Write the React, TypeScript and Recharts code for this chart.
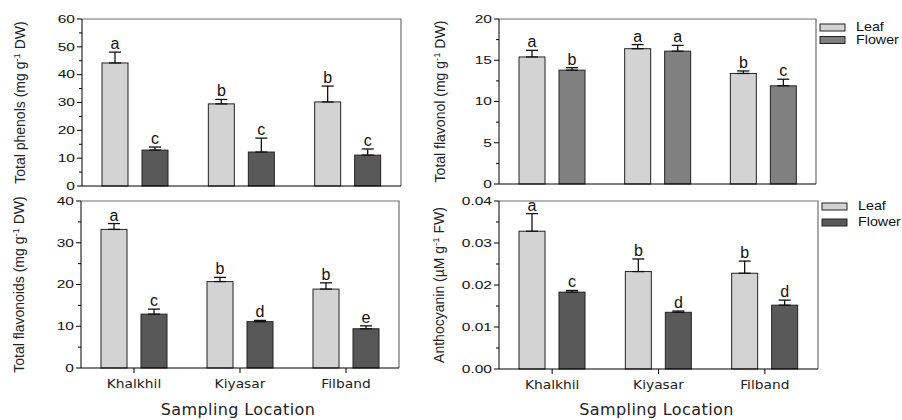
import { BarChart, Bar, XAxis, YAxis, ErrorBar, Legend, ReferenceArea } from "recharts";

const locations = ["Khalkhil", "Kiyasar", "Filband"];

// Total phenols (mg g-1 DW)
const phenolsLeaf = [44.2, 29.5, 30.2];
const phenolsLeafSe = [3.9, 1.6, 5.7];
const phenolsLeafSig = ["a", "b", "b"];
const phenolsFlower = [12.9, 12.2, 11.1];
const phenolsFlowerSe = [1.1, 5.0, 2.2];
const phenolsFlowerSig = ["c", "c", "c"];

// Total flavonol (mg g-1 DW)
const flavonolLeaf = [15.4, 16.4, 13.4];
const flavonolLeafSe = [0.8, 0.5, 0.3];
const flavonolLeafSig = ["a", "a", "b"];
const flavonolFlower = [13.8, 16.1, 11.9];
const flavonolFlowerSe = [0.3, 0.7, 0.8];
const flavonolFlowerSig = ["b", "a", "c"];

// Total flavonoids (mg g-1 DW)
const flavonoidsLeaf = [33.2, 20.7, 18.9];
const flavonoidsLeafSe = [1.4, 1.0, 1.5];
const flavonoidsLeafSig = ["a", "b", "b"];
const flavonoidsFlower = [12.9, 11.1, 9.4];
const flavonoidsFlowerSe = [1.2, 0.3, 0.7];
const flavonoidsFlowerSig = ["c", "d", "e"];

// Anthocyanin (uM g-1 FW)
const anthoLeaf = [0.0328, 0.0232, 0.0228];
const anthoLeafSe = [0.0042, 0.003, 0.0029];
const anthoLeafSig = ["a", "b", "b"];
const anthoFlower = [0.0183, 0.0135, 0.0152];
const anthoFlowerSe = [0.0004, 0.0003, 0.0012];
const anthoFlowerSig = ["c", "d", "d"];

const LEAF = "#d3d3d3";
const FRAME = "#6e6e6e";

function makeRows(leaf, leafSe, leafSig, flower, flowerSe, flowerSig) {
  return locations.map((loc, i) => ({
    loc,
    leaf: leaf[i],
    leafErr: [0, leafSe[i]],
    leafSe: leafSe[i],
    leafSig: leafSig[i],
    flower: flower[i],
    flowerErr: [0, flowerSe[i]],
    flowerSe: flowerSe[i],
    flowerSig: flowerSig[i],
  }));
}

const panels = [
  {
    rows: makeRows(phenolsLeaf, phenolsLeafSe, phenolsLeafSig, phenolsFlower, phenolsFlowerSe, phenolsFlowerSig),
    left: 0, top: 0, width: 410, height: 200, mt: 19, mr: 9, yw: 82, xh: 14,
    max: 60, step: 10, dec: 0, flowerFill: "#595959", showX: false, legend: false,
    yTitle: ["Total phenols (mg g", " DW)"], labelX: 25,
  },
  {
    rows: makeRows(flavonolLeaf, flavonolLeafSe, flavonolLeafSig, flavonolFlower, flavonolFlowerSe, flavonolFlowerSig),
    left: 420, top: 0, width: 482, height: 200, mt: 19, mr: 86, yw: 79, xh: 16,
    max: 20, step: 5, dec: 0, flowerFill: "#808080", showX: false, legend: true, legendTop: 18, legendGap: 12.5,
    yTitle: ["Total flavonol (mg g", " DW)"], labelX: 25,
  },
  {
    rows: makeRows(flavonoidsLeaf, flavonoidsLeafSe, flavonoidsLeafSig, flavonoidsFlower, flavonoidsFlowerSe, flavonoidsFlowerSig),
    left: 0, top: 190, width: 410, height: 230, mt: 11, mr: 11, yw: 81, xh: 52,
    max: 40, step: 10, dec: 0, flowerFill: "#575757", showX: true, legend: false, titleDy: 47,
    yTitle: ["Total flavonoids (mg g", " DW)"], labelX: 24,
  },
  {
    rows: makeRows(anthoLeaf, anthoLeafSe, anthoLeafSig, anthoFlower, anthoFlowerSe, anthoFlowerSig),
    left: 420, top: 190, width: 482, height: 230, mt: 11, mr: 84, yw: 79, xh: 51,
    max: 0.04, step: 0.01, dec: 2, flowerFill: "#595959", showX: true, legend: true, legendTop: 7, legendGap: 16, titleDy: 46,
    yTitle: ["Anthocyanin (\u00b5M g", " FW)"], labelX: 24,
  },
];

function YTick(props) {
  const { x, y, payload, step, dec } = props;
  const v = payload.value;
  const r = v / step;
  const major = Math.abs(r - Math.round(r)) < 1e-6;
  return (
    <g>
      <line x1={x - (major ? 5 : 3)} y1={y} x2={x} y2={y} stroke="#000" />
      {major && (
        <text
          transform={`translate(${x - 7},${y}) scale(1.35,1)`}
          textAnchor="end"
          dominantBaseline="central"
          fontFamily="Liberation Sans, Arial, sans-serif"
          fontSize={11.5}
          fill="#111"
        >
          {v.toFixed(dec)}
        </text>
      )}
    </g>
  );
}

function XTick(props) {
  const { x, y, payload } = props;
  return (
    <g>
      <line x1={x} y1={y} x2={x} y2={y + 5} stroke="#000" />
      <text
        transform={`translate(${x},${y + 20}) scale(1.15,1)`}
        textAnchor="middle"
        fontFamily="DejaVu Sans, sans-serif"
        fontSize={12}
        fill="#222"
      >
        {payload.value}
      </text>
    </g>
  );
}

function YTitle({ lx, ly, parts }) {
  return (
    <text
      x={lx}
      y={ly}
      transform={`rotate(-90 ${lx} ${ly})`}
      textAnchor="middle"
      fontFamily="Liberation Sans, Arial, sans-serif"
      fontSize={14}
      fill="#222"
    >
      {parts[0]}
      <tspan dy={-5} fontSize={9.5}>-1</tspan>
      <tspan dy={5}>{parts[1]}</tspan>
    </text>
  );
}

function XTitle({ tx, ty }) {
  return (
    <text x={tx} y={ty} textAnchor="middle" fontFamily="DejaVu Sans, sans-serif" fontSize={16} letterSpacing={0.4} fill="#222">
      Sampling Location
    </text>
  );
}

function SigBar(props) {
  const { x, y, width, height, fill, payload, valueKey } = props;
  const value = payload[valueKey];
  const se = payload[valueKey + "Se"];
  const sig = payload[valueKey + "Sig"];
  const ppu = value ? height / value : 0;
  const capY = y - se * ppu;
  return (
    <g>
      <rect x={x} y={y} width={width} height={height} fill={fill} stroke="#222" strokeWidth={1} />
      <text x={x + width / 2} y={capY - 3} textAnchor="middle" fontFamily="Liberation Sans, Arial, sans-serif" fontSize={16} fill="#111">
        {sig}
      </text>
    </g>
  );
}

function LegendBox({ gap, flowerFill }) {
  const items = [
    { name: "Leaf", fill: LEAF },
    { name: "Flower", fill: flowerFill },
  ];
  return (
    <svg width={82} height={44}>
      {items.map((it, i) => (
        <g key={it.name}>
          <rect x={1} y={6 + i * gap} width={25} height={7} fill={it.fill} stroke="#222" />
          <text
            transform={`translate(37,${13 + i * gap}) scale(1.1,1)`}
            fontFamily="Liberation Sans, Arial, sans-serif"
            fontSize={13}
            fill="#111"
          >
            {it.name}
          </text>
        </g>
      ))}
    </svg>
  );
}

function Panel({ cfg }) {
  const minor = cfg.step / 2;
  const ticks = [];
  for (let i = 0; i * minor <= cfg.max + 1e-9; i++) ticks.push(+(i * minor).toFixed(6));
  const plotH = cfg.height - cfg.mt - cfg.xh;
  const plotW = cfg.width - cfg.yw - cfg.mr;
  return (
    <div style={{ position: "absolute", left: cfg.left, top: cfg.top }}>
      <BarChart
        width={cfg.width}
        height={cfg.height}
        data={cfg.rows}
        margin={{ top: cfg.mt, right: cfg.mr, left: 0, bottom: 0 }}
        barSize={26}
        barGap={14}
      >
        {/* top + right frame: dash pattern draws only the first two sides of the rect */}
        <ReferenceArea
          y1={0}
          y2={cfg.max}
          fill="none"
          fillOpacity={0}
          stroke={FRAME}
          strokeWidth={1.2}
          strokeDasharray={`${plotW + plotH} ${plotW + plotH + 10}`}
        />
        <XAxis
          dataKey="loc"
          height={cfg.xh}
          axisLine={{ stroke: "#000" }}
          tickLine={false}
          tickSize={0}
          tickMargin={0}
          tick={cfg.showX ? <XTick /> : false}
          label={cfg.showX ? <XTitle tx={cfg.yw + plotW / 2 - 2} ty={cfg.mt + plotH + cfg.titleDy} /> : undefined}
        />
        <YAxis
          width={cfg.yw}
          type="number"
          domain={[0, cfg.max]}
          ticks={ticks}
          interval={0}
          axisLine={{ stroke: "#000" }}
          tickLine={false}
          tickSize={0}
          tickMargin={0}
          tick={<YTick step={cfg.step} dec={cfg.dec} />}
          label={<YTitle lx={cfg.labelX} ly={cfg.mt + plotH / 2} parts={cfg.yTitle} />}
        />
        <Bar dataKey="leaf" fill={LEAF} isAnimationActive={false} shape={(p) => <SigBar {...p} valueKey="leaf" />}>
          <ErrorBar dataKey="leafErr" width={6} stroke="#111" strokeWidth={1.3} direction="y" />
        </Bar>
        <Bar dataKey="flower" fill={cfg.flowerFill} isAnimationActive={false} shape={(p) => <SigBar {...p} valueKey="flower" />}>
          <ErrorBar dataKey="flowerErr" width={6} stroke="#111" strokeWidth={1.3} direction="y" />
        </Bar>
        {cfg.legend && (
          <Legend
            layout="vertical"
            align="center"
            verticalAlign="middle"
            wrapperStyle={{ left: cfg.yw + plotW + 3, top: cfg.legendTop, width: 82, height: 44 }}
            content={() => <LegendBox gap={cfg.legendGap} flowerFill={cfg.flowerFill} />}
          />
        )}
      </BarChart>
    </div>
  );
}

export default function App() {
  return (
    <div style={{ position: "absolute", left: 0, top: 0, width: 902, height: 420, background: "#fff" }}>
      {panels.map((cfg, i) => (
        <Panel key={i} cfg={cfg} />
      ))}
    </div>
  );
}
